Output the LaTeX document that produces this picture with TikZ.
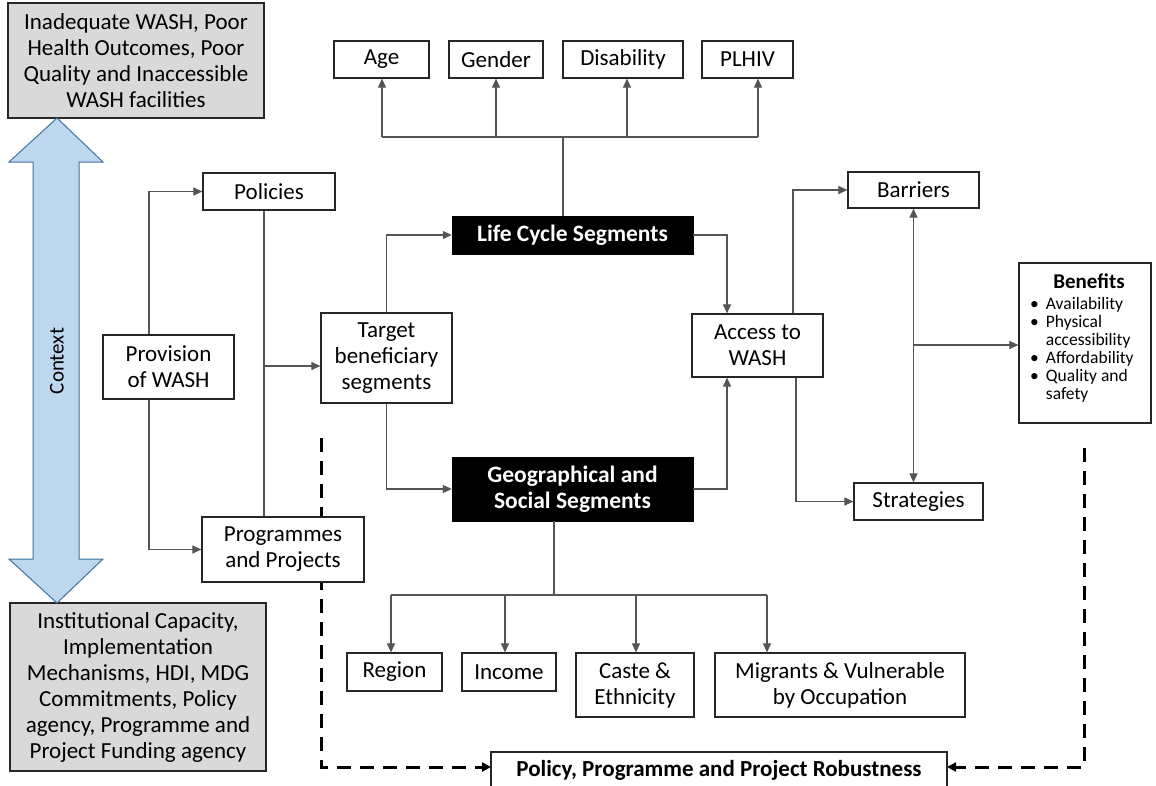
\documentclass[tikz,border=0pt]{standalone}
\usepackage{fontspec}
\setmainfont{Carlito}
\usetikzlibrary{arrows.meta,calc}
\definecolor{boxgray}{HTML}{D9D9D9}
\definecolor{arrowblue}{HTML}{BDD7EE}
\definecolor{arrowedge}{HTML}{41719C}
\definecolor{linegray}{HTML}{555555}
\newcommand\placebox[7]{\node[#1, minimum width={(#5-#3)*1pt}, minimum height={(#6-#4)*1pt}] (#2) at ({(#3+#5)/2},{(#4+#6)/2}) {#7};}
\begin{document}
\begin{tikzpicture}[x=1pt,y=-1pt,
  box/.style={draw=black!85, line width=1.2pt, fill=white, inner sep=0pt, align=center, font=\fontsize{23}{26}\selectfont},
  graybox/.style={box, fill=boxgray},
  blackbox/.style={fill=black, draw=black, text=white, inner sep=0pt, align=center, font=\bfseries\fontsize{23.5}{26}\selectfont},
  conn/.style={draw=linegray, line width=1.1pt},
  arr/.style={conn, -{Triangle[length=9pt,width=8pt]}},
  darr/.style={conn, {Triangle[length=9pt,width=8pt]}-{Triangle[length=9pt,width=8pt]}},
  dashconn/.style={draw=black, line width=3pt, dash pattern=on 14pt off 9pt, -{Triangle[length=9pt,width=9pt]}}]
\useasboundingbox (0,0) rectangle (1156,785);
\fill[white] (0,0) rectangle (1156,785);

% dashed feedback (drawn first, boxes cover it)
\coordinate (d1) at (321,438);
\coordinate (d2) at (1084,448);
\coordinate (r1) at (491,767);
\coordinate (r2) at (947,767);
\draw[dashconn] (d1) |- (r1);
\draw[dashconn] (d2) |- (r2);

% context boxes and arrow
\placebox{graybox}{ctxtop}{8}{3}{264}{118}{Inadequate WASH, Poor\\Health Outcomes, Poor\\Quality and Inaccessible\\WASH facilities}
\placebox{graybox}{ctxbot}{10}{603}{266}{771}{Institutional Capacity,\\Implementation\\Mechanisms, HDI, MDG\\Commitments, Policy\\agency, Programme and\\Project Funding agency}
\draw[fill=arrowblue, draw=arrowedge, line width=1pt, line join=miter]
  (57,118) -- (103,162) -- (79,162) -- (79,559) -- (103,559) -- (57,603)
  -- (9,559) -- (33,559) -- (33,162) -- (9,162) -- cycle;
\node[rotate=90, font=\fontsize{21}{26}\selectfont] (ctx) at (57,361) {Context};

% main boxes
\placebox{box}{policies}{203}{173}{335}{210}{Policies}
\placebox{box}{provision}{103}{335}{234}{399}{Provision\\of WASH}
\placebox{box}{target}{321}{313}{452}{403}{Target\\beneficiary\\segments}
\placebox{box}{programmes}{202}{517}{364}{582}{Programmes\\and Projects}
\placebox{blackbox}{life}{452}{216}{693}{254}{Life Cycle Segments}
\placebox{blackbox}{geo}{452}{457}{693}{521}{Geographical and\\Social Segments}
\placebox{box}{access}{692}{314}{823}{377}{Access to\\WASH}
\placebox{box}{barriers}{848}{172}{979}{208}{Barriers}
\placebox{box}{strategies}{854}{483}{983}{520}{Strategies}
\placebox{box}{benefits}{1019}{263}{1151}{423}{}
\node[font=\bfseries\fontsize{21}{23}\selectfont] (bentitle) at (1089,281) {Benefits};
\node[anchor=north west, inner sep=0pt, font=\fontsize{17.5}{18}\selectfont] (benlist) at (1030,297)
  {\begin{tabular}{@{}l@{\hspace{7pt}}l@{}}
   \textbullet & Availability\\
   \textbullet & Physical\\
               & accessibility\\
   \textbullet & Affordability\\
   \textbullet & Quality and\\
               & safety
   \end{tabular}};

% life cycle children
\placebox{box}{age}{334}{41}{429}{78}{Age}
\placebox{box}{gender}{449}{41}{543}{78}{Gender}
\placebox{box}{disab}{563}{41}{683}{78}{Disability}
\placebox{box}{plhiv}{702}{41}{793}{78}{PLHIV}

% geo children
\placebox{box}{region}{347}{653}{442}{691}{Region}
\placebox{box}{income}{462}{653}{556}{691}{Income}
\placebox{box}{caste}{576}{653}{694}{717}{Caste \&\\Ethnicity}
\placebox{box}{migrants}{715}{653}{965}{717}{Migrants \& Vulnerable\\by Occupation}

\placebox{box}{robust}{491}{752}{947}{792}{}
\node[font=\bfseries\fontsize{23}{26}\selectfont] (robusttext) at (719,770) {Policy, Programme and Project Robustness};

% connectors: provision
\draw[arr] ([xshift=-19.5pt]provision.north) |- (policies.west);
\draw[arr] ([xshift=-19.5pt]provision.south) |- (programmes.west);
\draw[conn] ([xshift=-5pt]policies.south) -- ([xshift=-5pt]policies.south |- programmes.north);
\coordinate (j1) at (264,366);
\draw[arr] (j1) -- (j1 -| target.west);
\draw[arr] (target.north) |- (life.west);
\draw[arr] (target.south) |- (geo.west);
\draw[arr] (life.east) -| ([xshift=-30.5pt]access.north);
\draw[arr] (geo.east) -| ([xshift=-30.5pt]access.south);
\draw[arr] ([xshift=35.5pt]access.north) |- (barriers.west);
\draw[arr] ([xshift=38.5pt]access.south) |- (strategies.west);
\draw[darr] (barriers.south) -- (barriers.south |- strategies.north);
\coordinate (j2) at (913.5,345);
\draw[arr] (j2) -- (j2 -| benefits.west);

% life cycle tree
\coordinate (lt) at (563,137);
\draw[conn] (life.north -| lt) -- (lt);
\draw[conn] (382,137) -- (758,137);
\draw[arr] (382,137) -- (382,137 |- age.south);
\draw[arr] (496,137) -- (496,137 |- gender.south);
\draw[arr] (627,137) -- (627,137 |- disab.south);
\draw[arr] (758,137) -- (758,137 |- plhiv.south);

% geo tree
\coordinate (gt) at (554,595);
\draw[conn] (geo.south -| gt) -- (gt);
\draw[conn] (391,595) -- (767,595);
\draw[arr] (391,595) -- (391,595 |- region.north);
\draw[arr] (505,595) -- (505,595 |- income.north);
\draw[arr] (636,595) -- (636,595 |- caste.north);
\draw[arr] (767,595) -- (767,595 |- migrants.north);
\end{tikzpicture}
\end{document}
